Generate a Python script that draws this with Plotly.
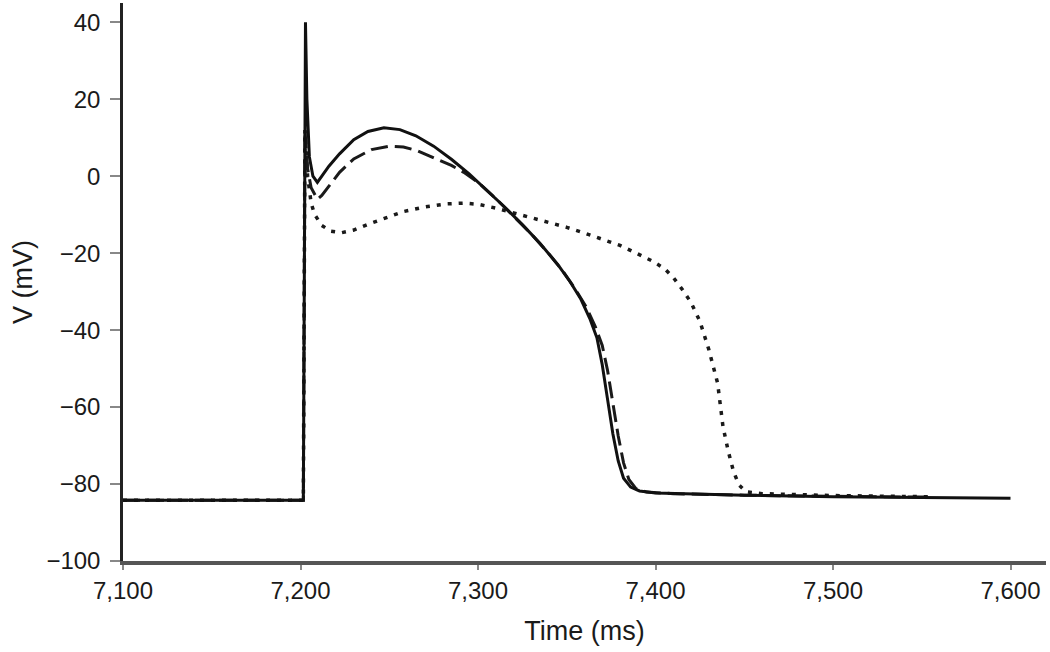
import plotly.graph_objects as go

# Solid trace (control)
t_solid = [7100, 7201.6, 7202.8, 7203.6, 7205, 7207, 7209.5, 7212, 7216, 7222, 7230, 7238, 7247,
           7256, 7265, 7275, 7285, 7295, 7305, 7315, 7325, 7335, 7345, 7352, 7358, 7363, 7367,
           7370, 7373, 7376, 7379, 7382, 7386, 7391, 7400, 7420, 7450, 7500, 7550, 7600]
v_solid = [-84.2, -84.2, 40, 20, 5, 0, -1.6, 0, 2.6, 5.8, 9.5, 11.6, 12.6,
           12.1, 10.5, 7.8, 4.4, 0.6, -3.6, -8, -12.6, -17.5, -23, -27.5, -32, -37, -42,
           -49, -58, -67, -74, -78.5, -80.8, -81.8, -82.3, -82.6, -82.9, -83.3, -83.5, -83.7]

# Long-dash trace
t_dash = [7100, 7201.6, 7202.5, 7204, 7206, 7209.5, 7212, 7216, 7222, 7230, 7240, 7250, 7258,
          7266, 7275, 7285, 7292, 7300, 7310, 7320, 7330, 7340, 7348, 7355, 7361, 7366, 7370,
          7373, 7376, 7379, 7382, 7385, 7389, 7395, 7410, 7450, 7500, 7555]
v_dash = [-84.2, -84.2, 12, 2, -3, -6, -5, -2.5, 1, 4.5, 6.9, 7.8, 7.6,
          6.6, 4.9, 2.8, 1.0, -1.6, -5.8, -10.3, -15, -20.2, -24.8, -29.5, -34, -39, -44,
          -50.5, -59, -67.5, -74.5, -78.8, -81.2, -82.1, -82.5, -82.9, -83.2, -83.4]

# Dotted trace
t_dot = [7100, 7201.6, 7202.5, 7204, 7206, 7208, 7212, 7217, 7223, 7230, 7238, 7248, 7258,
         7270, 7282, 7292, 7300, 7310, 7320, 7330, 7340, 7350, 7360, 7370, 7380, 7390, 7398,
         7405, 7410, 7415, 7420, 7425, 7430, 7435, 7438, 7441, 7444, 7447, 7451, 7460, 7500, 7555]
v_dot = [-84.2, -84.2, 12, 0, -7, -10, -12.8, -14.3, -14.7, -14, -12.5, -10.8, -9.2,
         -8, -7.2, -7, -7.3, -8.3, -9.5, -10.8, -12, -13.3, -14.8, -16.3, -18, -20.2, -22,
         -24, -26.3, -29.4, -32.8, -37.7, -45, -53.8, -65, -71.5, -76.8, -80.2, -82, -82.5, -83, -83.3]

x_ticks = [7100, 7200, 7300, 7400, 7500, 7600]
y_ticks = [-100, -80, -60, -40, -20, 0, 20, 40]

fig = go.Figure()
fig.add_trace(go.Scatter(x=t_dot, y=v_dot, mode="lines",
                         line=dict(color="#1a1a1a", width=3.5, dash="4px,7px")))
fig.add_trace(go.Scatter(x=t_dash, y=v_dash, mode="lines",
                         line=dict(color="#1a1a1a", width=3, dash="17px,7px")))
fig.add_trace(go.Scatter(x=t_solid, y=v_solid, mode="lines",
                         line=dict(color="#111111", width=3)))

font_family = "Liberation Sans, Arial, sans-serif"
fig.update_layout(
    width=1050, height=652,
    margin=dict(l=123, r=4, t=3, b=91, autoexpand=False),
    paper_bgcolor="white", plot_bgcolor="white",
    showlegend=False,
    font=dict(family=font_family, size=24, color="#1a1a1a"),
)
fig.update_xaxes(
    range=[7100, 7620], tickvals=x_ticks, tickformat=",d",
    showgrid=False, zeroline=False, automargin=False,
    showline=True, linecolor="#555555", linewidth=4,
    ticks="outside", ticklen=5, tickwidth=1.5, tickcolor="#888888",
    tickfont=dict(size=24, color="#1a1a1a"),
    title=dict(text="Time (ms)", font=dict(size=27, color="#1a1a1a"), standoff=19),
)
fig.update_yaxes(
    range=[-100, 45], tickvals=y_ticks,
    showgrid=False, zeroline=False, automargin=False,
    showline=True, linecolor="#222222", linewidth=2.5,
    ticks="outside", ticklen=10, tickwidth=1.5, tickcolor="#888888",
    tickfont=dict(size=24, color="#1a1a1a"),
    ticklabelstandoff=5,
    title=dict(text="V (mV)", font=dict(size=27, color="#1a1a1a"), standoff=6),
)

fig.write_html("out.html",
               config={"displayModeBar": False},
               post_script="document.body.style.margin='0';document.body.style.overflow='hidden';")
